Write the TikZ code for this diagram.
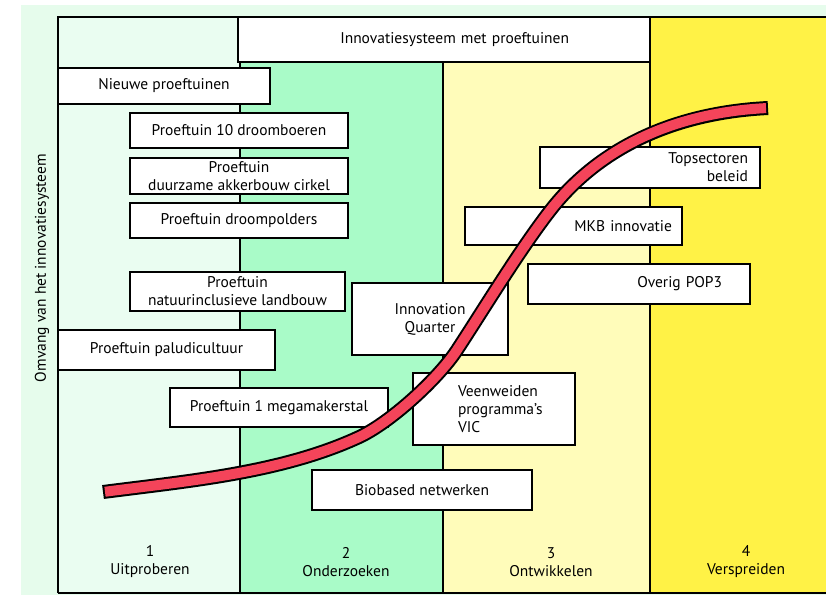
\documentclass[tikz,border=0pt]{standalone}
\usepackage{fontspec}
\setmainfont{PT Sans}
\definecolor{marginmint}{HTML}{E6FCEC}
\definecolor{phaseone}{HTML}{EAFDF1}
\definecolor{phasetwo}{HTML}{A9FBC8}
\definecolor{phasethree}{HTML}{FFFCBA}
\definecolor{phasefour}{HTML}{FFF246}
\definecolor{curvered}{HTML}{F4445A}

\begin{document}
\begin{tikzpicture}[x=1pt, y=-1pt, line width=2.4pt,
    every node/.style={font=\fontsize{15.5}{18}\selectfont},
    box/.style={draw, fill=white, line width=2.7pt, inner sep=0pt, align=center},
    phase/.style={align=center}]
    \useasboundingbox (0,0) rectangle (826,595);
    \fill[marginmint] (21,5) rectangle (826,595);
    \fill[phaseone] (58,17) rectangle (240,593);
    \fill[phasetwo] (240,62) rectangle (443,593);
    \fill[phasethree] (443,62) rectangle (650,593);
    \fill[phasefour] (650,17) rectangle (826,593);

    \draw (240,17) -- (240,593);
    \draw (443,62) -- (443,593);
    \draw (650,17) -- (650,593);
    \draw (58,593) -- (58,17) -- (826,17);
    \draw (58,593) -- (826,593);

    \node[box, minimum width=412, minimum height=45, text width=250, align=right] (systeem) at (444, 39.5) {Innovatiesysteem met proeftuinen};

    \node[box, minimum width=212, minimum height=36] (nieuwe) at (164, 86) {Nieuwe proeftuinen};
    \node[box, minimum width=218, minimum height=35] (droomboeren) at (239, 130.5) {Proeftuin 10 droomboeren};
    \node[box, minimum width=218, minimum height=36] (akkerbouw) at (239, 176) {Proeftuin\\duurzame akkerbouw cirkel};
    \node[box, minimum width=218, minimum height=35] (droompolders) at (239, 220.5) {Proeftuin droompolders};
    \node[box, minimum width=215, minimum height=39] (natuur) at (237.5, 291.5) {Proeftuin\\natuurinclusieve landbouw};
    \node[box, minimum width=217, minimum height=40] (paludi) at (166.5, 350) {Proeftuin paludicultuur};
    \node[box, minimum width=218, minimum height=39] (megastal) at (279, 407.5) {Proeftuin 1 megamakerstal};
    \node[box, minimum width=156, minimum height=72] (quarter) at (430, 319) {Innovation\\Quarter};
    \node[box, minimum width=162, minimum height=72, text width=72, align=left] (veenweiden) at (494, 409) {Veenweiden\\programma’s\\VIC};
    \node[box, minimum width=220, minimum height=40] (biobased) at (422, 490) {Biobased netwerken};
    \node[box, minimum width=220, minimum height=41, text width=196, align=right] (topsectoren) at (650, 167.5) {Topsectoren\\beleid};
    \node[box, minimum width=217, minimum height=38, text width=197, align=right] (mkb) at (573.5, 226) {MKB innovatie};
    \node[box, minimum width=222, minimum height=40, text width=166, align=right] (overig) at (639, 284) {Overig POP3};

    \node[phase] (fase1) at (150, 562) {1\\Uitproberen};
    \node[phase] (fase2) at (346, 562) {2\\Onderzoeken};
    \node[phase] (fase3) at (551, 562) {3\\Ontwikkelen};
    \node[phase] (fase4) at (746, 562) {4\\Verspreiden};

    \node[rotate=90] (omvang) at (42, 268) {Omvang van het innovatiesysteem};

    \draw[line width=14pt, black] (103,492) .. controls (188,481) and (280,473) .. (357,438) .. controls (389,424) and (438,379) .. (457,350) .. controls (484.5,308) and (522,246) .. (553,207) .. controls (603,145) and (678,112.5) .. (768,108);
    \draw[line width=10pt, curvered, shorten <=2pt, shorten >=2pt] (103,492) .. controls (188,481) and (280,473) .. (357,438) .. controls (389,424) and (438,379) .. (457,350) .. controls (484.5,308) and (522,246) .. (553,207) .. controls (603,145) and (678,112.5) .. (768,108);
\end{tikzpicture}
\end{document}
